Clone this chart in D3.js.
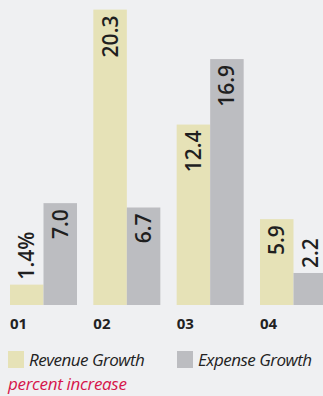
<!DOCTYPE html>
<html>
<head>
<meta charset="utf-8">
<script src="https://cdn.jsdelivr.net/npm/d3@7"></script>
<style>
  html, body { margin: 0; padding: 0; background: #eff0f2; }
  svg { display: block; }
</style>
</head>
<body>
<svg id="chart" width="323" height="396"></svg>
<script>
// Quarterly growth figures, percent increase
const quarters = ["01", "02", "03", "04"];
const revenueGrowth = [1.4, 20.3, 12.4, 5.9];
const expenseGrowth = [7.0, 6.7, 16.9, 2.2];
const seriesNames = ["Revenue Growth", "Expense Growth"];
const valueLabels = [["1.4%", "20.3", "12.4", "5.9"], ["7.0", "6.7", "16.9", "2.2"]];

const colors = ["#e6e2b7", "#bcbdc1"];
const svg = d3.select("#chart");

const plotLeft = 10, plotRight = 327, baseY = 305;

const x0 = d3.scaleBand()
  .domain(quarters)
  .range([plotLeft, plotRight])
  .paddingInner(0.196)
  .paddingOuter(0);

const x1 = d3.scaleBand()
  .domain(d3.range(seriesNames.length))
  .range([0, x0.bandwidth()])
  .padding(0);

const y = d3.scaleLinear().domain([0, 20.96]).range([baseY, 0]);

const rows = quarters.map((q, i) => ({ q, vals: [revenueGrowth[i], expenseGrowth[i]] }));

const groups = svg.append("g").selectAll("g")
  .data(rows)
  .join("g")
  .attr("transform", d => `translate(${x0(d.q)},0)`);

const cells = groups.selectAll("g")
  .data((d, i) => d.vals.map((v, s) => ({ v, s, i })))
  .join("g");

cells.append("rect")
  .attr("x", d => x1(d.s))
  .attr("y", d => y(d.v))
  .attr("width", x1.bandwidth())
  .attr("height", d => baseY - y(d.v))
  .attr("fill", d => colors[d.s]);

// Rotated value labels: inside the bar top when tall enough, else above it
const isInside = d => baseY - y(d.v) > 60;
cells.append("text")
  .attr("transform", d => {
    const cx = x1(d.s) + x1.bandwidth() / 2;
    const ty = isInside(d) ? y(d.v) + 6 : y(d.v) - 5;
    return `translate(${cx + 7.5},${ty}) rotate(-90)`;
  })
  .attr("text-anchor", d => isInside(d) ? "end" : "start")
  .attr("font-family", "'Open Sans', sans-serif")
  .attr("font-weight", 600)
  .attr("font-size", 21)
  .attr("fill", "#1f1f1f")
  .text(d => valueLabels[d.s][d.i]);

// Category axis
const axis = d3.axisBottom(x0).tickSize(0).tickPadding(0);
const axG = svg.append("g").attr("transform", `translate(0,${baseY})`).call(axis);
axG.select(".domain").remove();
axG.selectAll("text")
  .attr("x", -x0.bandwidth() / 2)
  .attr("dy", 0)
  .attr("y", 23.5)
  .attr("text-anchor", "start")
  .attr("font-family", "'Open Sans', sans-serif")
  .attr("font-weight", 700)
  .attr("font-size", 15)
  .attr("fill", "#222");

// Legend
const legendX = [8, 177];
const legend = svg.append("g").selectAll("g")
  .data(seriesNames)
  .join("g")
  .attr("transform", (d, i) => `translate(${legendX[i]},351)`);
legend.append("rect").attr("width", 16).attr("height", 17).attr("fill", (d, i) => colors[i]);
legend.append("text")
  .attr("x", 21).attr("y", 14.5)
  .attr("font-family", "'Open Sans', sans-serif")
  .attr("font-style", "italic")
  .attr("font-size", 17)
  .attr("letter-spacing", -0.5)
  .attr("fill", "#222")
  .text(d => d);

svg.append("text")
  .attr("x", 8).attr("y", 390)
  .attr("font-family", "'Open Sans', sans-serif")
  .attr("font-style", "italic")
  .attr("font-size", 17)
  .attr("letter-spacing", -0.3)
  .attr("fill", "#d6164b")
  .text("percent increase");
</script>
</body>
</html>
